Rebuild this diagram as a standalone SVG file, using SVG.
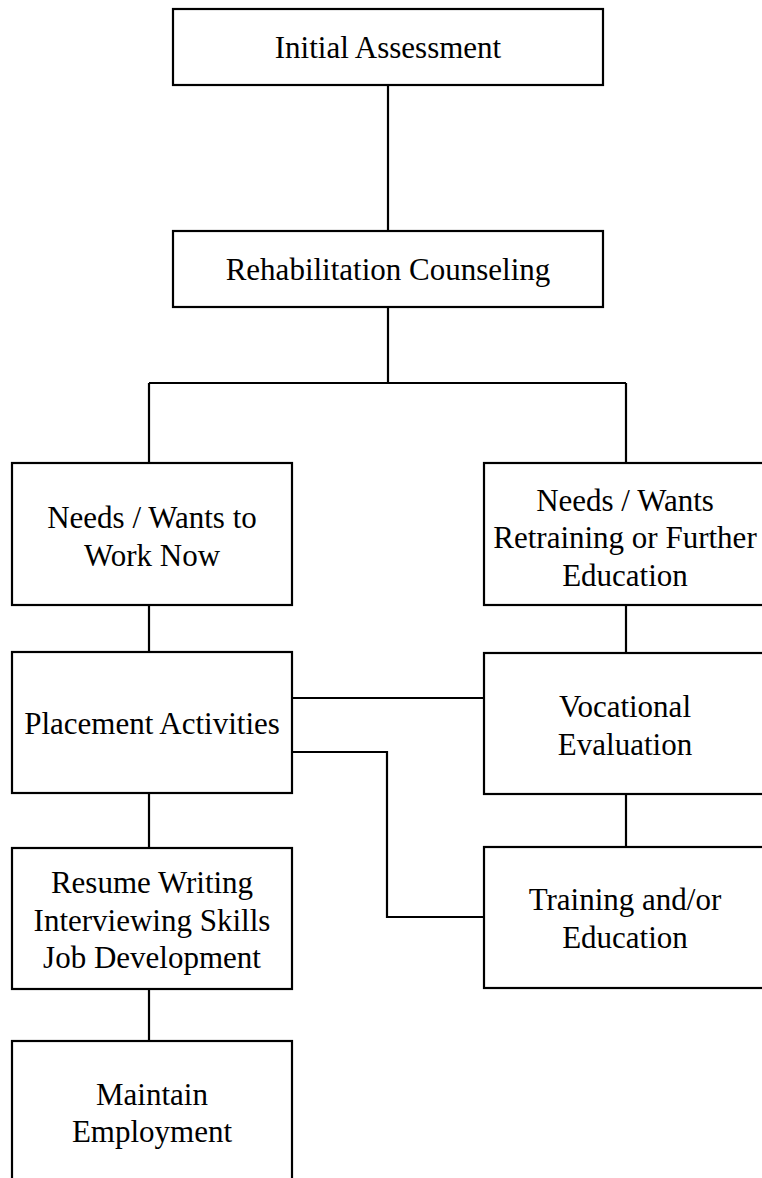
<svg xmlns="http://www.w3.org/2000/svg" width="762" height="1178" viewBox="0 0 762 1178">
<style>
.box{fill:#fff;stroke:#000;stroke-width:2.2}
.ln{fill:none;stroke:#000;stroke-width:2.2}
.t{font-family:'Liberation Serif','DejaVu Serif','Times New Roman',serif;font-size:31px;fill:#000;text-anchor:middle}
</style>
<rect width="762" height="1178" fill="#fff"/>
<g id="connectors">
<path class="ln" d="M388,85V231"/>
<path class="ln" d="M388,307V383M149,383H626M149,383V463M626,383V463"/>
<path class="ln" d="M149,605V652"/>
<path class="ln" d="M626,605V653"/>
<path class="ln" d="M292,698H484"/>
<path class="ln" d="M292,752H387V917H484"/>
<path class="ln" d="M626,794V847"/>
<path class="ln" d="M149,793V848"/>
<path class="ln" d="M149,989V1041"/>
</g>
<g class="t" font-family="Liberation Serif, DejaVu Serif, serif">
<g id="initial"><rect class="box" x="173" y="9" width="430" height="76"/><text x="388" y="58">Initial Assessment</text></g>
<g id="counseling"><rect class="box" x="173" y="231" width="430" height="76"/><text x="388" y="280">Rehabilitation Counseling</text></g>
<g id="work-now"><rect class="box" x="12" y="463" width="280" height="142"/><text x="152" y="528">Needs / Wants to</text><text x="152" y="566">Work Now</text></g>
<g id="retraining"><rect class="box" x="484" y="463" width="284" height="142"/><text x="625" y="511">Needs / Wants</text><text x="625" y="548">Retraining or Further</text><text x="625" y="586">Education</text></g>
<g id="placement"><rect class="box" x="12" y="652" width="280" height="141"/><text x="152" y="734">Placement Activities</text></g>
<g id="vocational"><rect class="box" x="484" y="653" width="284" height="141"/><text x="625" y="717">Vocational</text><text x="625" y="755">Evaluation</text></g>
<g id="resume"><rect class="box" x="12" y="848" width="280" height="141"/><text x="152" y="893">Resume Writing</text><text x="152" y="931">Interviewing Skills</text><text x="152" y="968">Job Development</text></g>
<g id="training"><rect class="box" x="484" y="847" width="284" height="141"/><text x="625" y="910">Training and/or</text><text x="625" y="948">Education</text></g>
<g id="maintain"><rect class="box" x="12" y="1041" width="280" height="170"/><text x="152" y="1105">Maintain</text><text x="152" y="1142">Employment</text></g>
</g>
</svg>
